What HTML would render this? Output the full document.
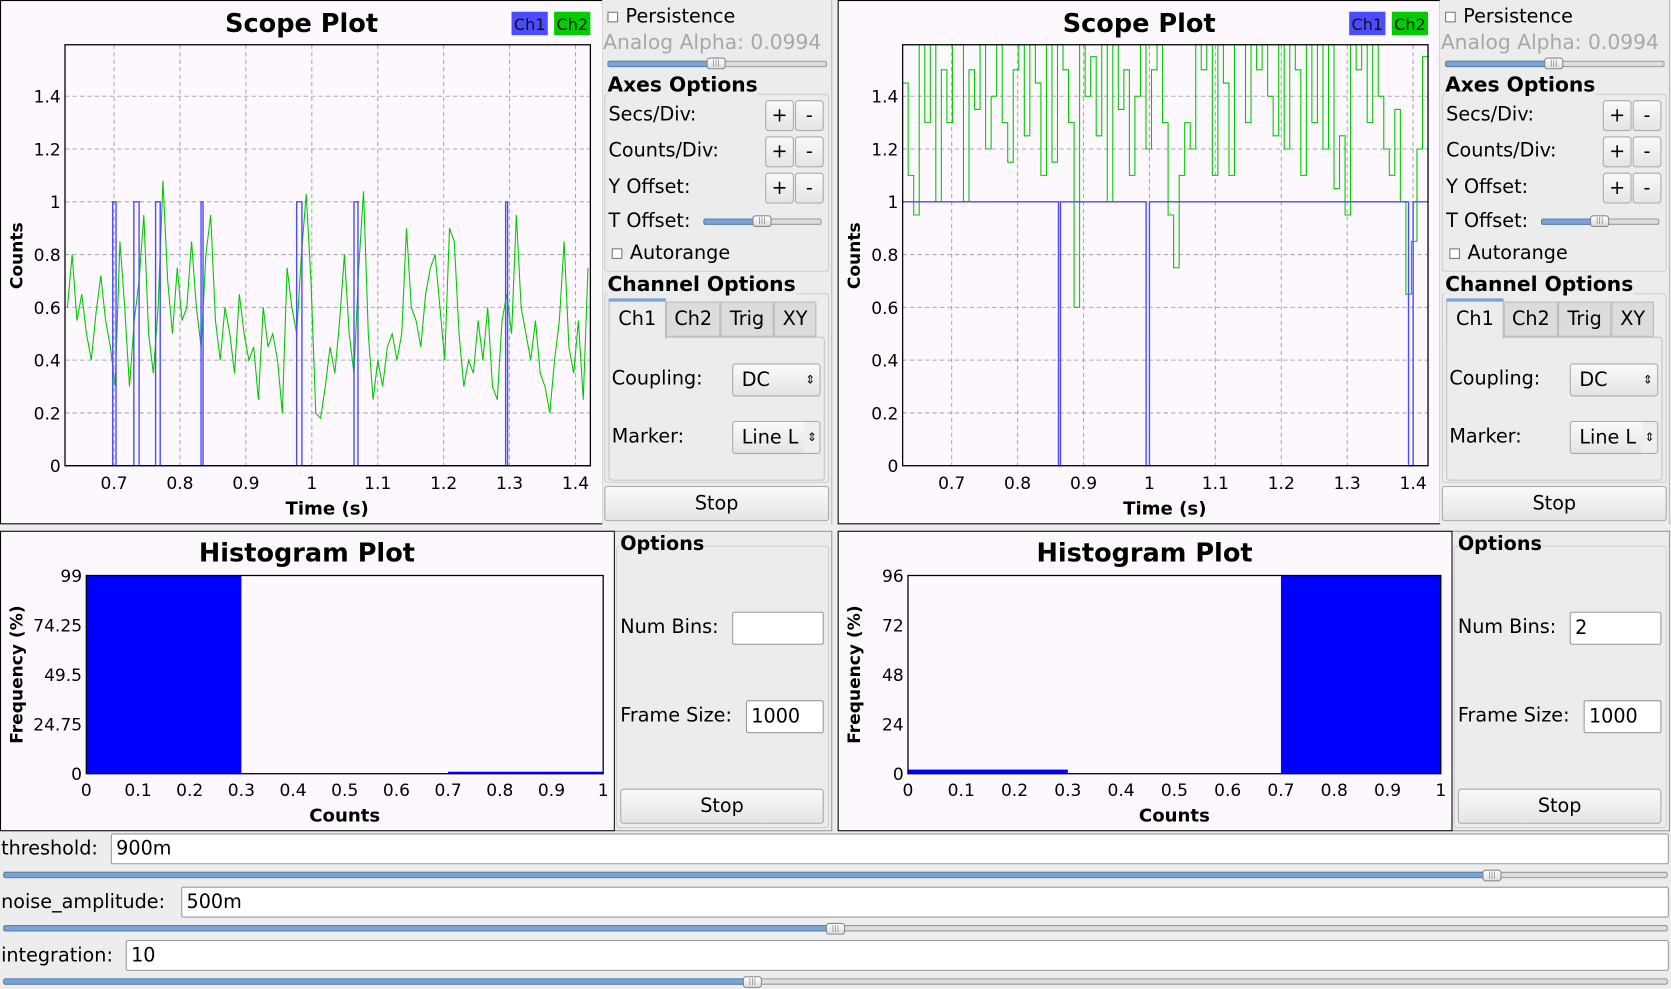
<!DOCTYPE html>
<html><head><meta charset="utf-8">
<style>
html,body{margin:0;padding:0;background:#ededed;overflow:hidden;width:1671px;height:989px}
#root{position:absolute;left:0;top:0;width:1568px;height:928px;transform:scale(1.06569,1.06573);transform-origin:0 0;font-family:"DejaVu Sans","Liberation Sans",sans-serif;color:#000}
.a{position:absolute;box-sizing:border-box}
.t{position:absolute;white-space:nowrap;font-size:18px;line-height:1}
.btn{position:absolute;box-sizing:border-box;border:1px solid #aaa;border-radius:3px;background:linear-gradient(#fafafa,#e4e4e4);text-align:center;font-size:18px}
.inp{position:absolute;box-sizing:border-box;border:1px solid #999;border-radius:2px;background:#fff;font-size:18px;padding-left:4px}
.grp{position:absolute;box-sizing:border-box;border:1px solid #cfcfcf;border-radius:3px}
.cb{position:absolute;width:10px;height:10px;border:1px solid #777;background:#fff;box-sizing:border-box}
.trk{position:absolute;height:6px;border:1px solid #999;background:#ddd;box-sizing:border-box;border-radius:2px}
.fil{position:absolute;height:6px;background:#7aa3d6;border:1px solid #5a80b0;box-sizing:border-box;border-radius:2px}
.hdl{position:absolute;width:18px;height:11px;border:1px solid #888;border-radius:3px;background:linear-gradient(#fff,#ddd);box-sizing:border-box;font-size:7px;text-align:center;line-height:9px;color:#777}
svg text{font-family:"DejaVu Sans","Liberation Sans",sans-serif}
</style></head>
<body>
<div id="root">
<svg id="charts" class="a" style="left:0;top:0" width="1568" height="928"></svg>
<div id="ctrls"></div>
</div>
<script>
// ---------- data ----------
const scopeXTicks = [0.7,0.8,0.9,1,1.1,1.2,1.3,1.4];
const scopeYTicks = [0,0.2,0.4,0.6,0.8,1,1.2,1.4];
const leftCh1PulseStart = [0.698,0.730,0.763,0.832,0.977,1.064,1.294];
const leftCh1PulseEnd   = [0.703,0.738,0.770,0.835,0.985,1.070,1.297];
const leftCh2 = [0.6,0.8,0.55,0.65,0.5,0.4,0.58,0.72,0.55,0.45,0.3,0.85,0.6,0.3,0.55,0.7,0.95,0.5,0.35,0.6,1.08,0.7,0.5,0.75,0.55,0.6,0.85,0.6,0.45,0.8,0.95,0.55,0.4,0.6,0.5,0.35,0.65,0.5,0.4,0.45,0.25,0.6,0.45,0.5,0.4,0.2,0.75,0.6,0.5,0.8,1.03,0.7,0.2,0.18,0.3,0.45,0.35,0.55,0.8,0.5,0.35,0.75,1.04,0.5,0.25,0.4,0.3,0.45,0.5,0.4,0.5,0.9,0.6,0.55,0.45,0.65,0.75,0.8,0.6,0.4,0.9,0.85,0.5,0.3,0.4,0.35,0.55,0.4,0.6,0.3,0.25,0.55,0.65,0.5,0.95,0.6,0.5,0.4,0.55,0.35,0.3,0.2,0.4,0.55,0.85,0.45,0.35,0.55,0.25,0.75];
const rightCh1DropStart = [0.862,0.995,1.393];
const rightCh1DropEnd   = [0.865,1.000,1.400];
const rightCh2 = [1.45,1.1,0.95,1.6,1.3,1.6,1.0,1.5,1.3,1.6,1.6,1.0,1.5,1.35,1.6,1.2,1.4,1.6,1.3,1.15,1.5,1.6,1.25,1.6,1.45,1.1,1.6,1.15,1.6,1.5,1.3,0.6,1.6,1.4,1.55,1.25,1.6,1.0,1.6,1.35,1.5,1.1,1.4,1.6,1.2,1.5,1.6,1.3,0.95,0.75,1.1,1.3,1.2,1.6,1.5,1.6,1.1,1.6,1.45,1.1,1.6,1.6,1.3,1.6,1.5,1.6,1.4,1.25,1.6,1.2,1.6,1.5,1.1,1.6,1.3,1.6,1.2,1.6,1.05,1.25,0.95,1.6,1.5,1.6,1.3,1.6,1.4,1.2,1.1,1.35,1.0,0.65,0.85,1.2,1.55];
const histXTicks = [0,0.1,0.2,0.3,0.4,0.5,0.6,0.7,0.8,0.9,1];
const histBinStart = [0,0.7];
const histBinEnd = [0.3,1];
const leftHistValues = [99,1];
const leftHistYTicks = ["0","24.75","49.5","74.25","99"];
const rightHistValues = [2,96];
const rightHistYTicks = ["0","24","48","72","96"];

const NS="http://www.w3.org/2000/svg";
const svg=document.getElementById('charts');
function el(tag,attrs,parent,txt){const e=document.createElementNS(NS,tag);for(const k in attrs)e.setAttribute(k,attrs[k]);if(txt!==undefined)e.textContent=txt;(parent||svg).appendChild(e);return e;}

function scope(ox,ch1Type,ch1A,ch1B,ch2,side,steps){
  const L=ox+61,R=ox+554,T=42,B=437,x0=0.6256,x1=1.4226,y0=0,y1=1.595;
  const sx=v=>L+(v-x0)/(x1-x0)*(R-L), sy=v=>B-(v-y0)/(y1-y0)*(B-T);
  const g=el('g',{});
  
  
  const bg=el('rect',{x:ox+0.5,y:0.5,width:565,height:491,fill:'#fdf8fd',stroke:'#000'},g);
  
  const ti=el('text',{x:ox+283,y:30,'font-size':24,'font-weight':'bold','text-anchor':'middle'},g,'Scope Plot');
  
  const l1=el('rect',{x:ox+480,y:11,width:34,height:22,fill:'#4b4bff'},g);
  
  el('text',{x:ox+497,y:28,'font-size':15,'text-anchor':'middle',fill:'#111'},g,'Ch1');
  const l2=el('rect',{x:ox+520,y:11,width:34,height:22,fill:'#00cc00'},g);
  
  el('text',{x:ox+537,y:28,'font-size':15,'text-anchor':'middle',fill:'#111'},g,'Ch2');
  scopeXTicks.forEach(v=>{
    el('line',{x1:sx(v),x2:sx(v),y1:T,y2:B,stroke:'#aaa','stroke-dasharray':'4,3'},g);
    const t=el('text',{x:sx(v),y:B+22,'font-size':16,'text-anchor':'middle'},g,String(v));
    
  });
  scopeYTicks.forEach(v=>{
    el('line',{x1:L,x2:R,y1:sy(v),y2:sy(v),stroke:'#aaa','stroke-dasharray':'4,3'},g);
    const t=el('text',{x:L-4,y:sy(v)+6,'font-size':16,'text-anchor':'end'},g,String(v));
    
  });
  let d='';const n=ch2.length;
  ch2.forEach((v,i)=>{const xa=sx(x0+(x1-x0)*i/n),xb=sx(x0+(x1-x0)*(i+1)/n),y=sy(Math.min(v,y1));
    if(steps) d+=(i?'L':'M')+xa+','+y+'L'+xb+','+y;
    else d+=(i?'L':'M')+((xa+xb)/2)+','+y;});
  const p2=el('path',{d:d,fill:'none',stroke:'#00c800','stroke-width':1},g);
  
  const base=ch1Type==='pulse'?0:1, alt=1-base;
  let d1='M'+L+','+sy(base);
  ch1A.forEach((s,i)=>{d1+='L'+sx(s)+','+sy(base)+'L'+sx(s)+','+sy(alt)+'L'+sx(ch1B[i])+','+sy(alt)+'L'+sx(ch1B[i])+','+sy(base);});
  d1+='L'+R+','+sy(base);
  const p1=el('path',{d:d1,fill:'none',stroke:'#4b4bff','stroke-width':1.3},g);
  
  const fr=el('rect',{x:L,y:T,width:R-L,height:B-T,fill:'none',stroke:'#000','stroke-width':1.2},g);
  
  const xl=el('text',{x:ox+307,y:483,'font-size':17,'font-weight':'bold','text-anchor':'middle'},g,'Time (s)');
  
  const yl=el('text',{x:0,y:0,'font-size':16,'font-weight':'bold','text-anchor':'middle',transform:'translate('+(ox+21)+',240) rotate(-90)'},g,'Counts');
  
}
scope(0,'pulse',leftCh1PulseStart,leftCh1PulseEnd,leftCh2,'left',false);
scope(786,'drop',rightCh1DropStart,rightCh1DropEnd,rightCh2,'right',true);

function hist(ox,lOff,vals,yt,side){
  const L=ox+lOff,R=ox+566,T=540,B=726,ymax=+yt[yt.length-1];
  const sx=v=>L+v*(R-L), sy=v=>B-v/ymax*(B-T);
  const g=el('g',{});
  
  
  el('rect',{x:ox+0.5,y:498.5,width:576,height:281,fill:'#fdf8fd',stroke:'#000'},g);
  const ti=el('text',{x:ox+288,y:527,'font-size':24,'font-weight':'bold','text-anchor':'middle'},g,'Histogram Plot');
  
  vals.forEach((v,i)=>{
    const r=el('rect',{x:sx(histBinStart[i]),y:sy(v),width:sx(histBinEnd[i])-sx(histBinStart[i]),height:B-sy(v),fill:'#0000ff'},g);
    
  });
  el('rect',{x:L,y:T,width:R-L,height:B-T,fill:'none',stroke:'#000','stroke-width':1.2},g);
  histXTicks.forEach(v=>{const t=el('text',{x:sx(v),y:B+21,'font-size':16,'text-anchor':'middle'},g,String(v));
    });
  yt.forEach(s=>{const t=el('text',{x:L-4,y:sy(+s)+6,'font-size':16,'text-anchor':'end'},g,s);
    });
  const xl=el('text',{x:(L+R)/2,y:771,'font-size':17,'font-weight':'bold','text-anchor':'middle'},g,'Counts');
  
  const yl=el('text',{x:0,y:0,'font-size':16,'font-weight':'bold','text-anchor':'middle',transform:'translate('+(ox+21)+',633) rotate(-90)'},g,'Frequency (%)');
  
}
hist(0,81,leftHistValues,leftHistYTicks,'left');
hist(786,66,rightHistValues,rightHistYTicks,'right');

function panel(ox,side,bins){
return `
<div class="a" style="left:${ox+565}px;top:0;width:216px;height:492px;background:#ececec;border-right:1px solid #bbb"></div>
<div class="cb" style="left:${ox+570}px;top:11px"></div>
<div class="t" style="left:${ox+587}px;top:7px">Persistence</div>
<div class="t" style="left:${ox+566}px;top:31px;color:#a8a8a8;font-size:19px">Analog Alpha: 0.0994</div>
<div class="trk" style="left:${ox+570}px;top:57px;width:206px"></div>
<div class="fil" style="left:${ox+570}px;top:57px;width:102px"></div>
<div class="hdl" style="left:${ox+663}px;top:54px">|||</div>
<div class="grp" style="left:${ox+567}px;top:88px;width:211px;height:167px"></div>
<div class="t" style="left:${ox+570}px;top:71px;font-weight:bold;background:#ececec;font-size:19px">Axes Options</div>
<div class="t" style="left:${ox+571}px;top:99px">Secs/Div:</div>
<div class="btn" style="left:${ox+718}px;top:94px;width:27px;height:29px;line-height:27px">+</div>
<div class="btn" style="left:${ox+746}px;top:94px;width:27px;height:29px;line-height:27px">-</div>
<div class="t" style="left:${ox+571}px;top:133px">Counts/Div:</div>
<div class="btn" style="left:${ox+718}px;top:128px;width:27px;height:29px;line-height:27px">+</div>
<div class="btn" style="left:${ox+746}px;top:128px;width:27px;height:29px;line-height:27px">-</div>
<div class="t" style="left:${ox+571}px;top:167px">Y Offset:</div>
<div class="btn" style="left:${ox+718}px;top:162px;width:27px;height:29px;line-height:27px">+</div>
<div class="btn" style="left:${ox+746}px;top:162px;width:27px;height:29px;line-height:27px">-</div>
<div class="t" style="left:${ox+571}px;top:199px">T Offset:</div>
<div class="trk" style="left:${ox+660}px;top:205px;width:111px"></div>
<div class="fil" style="left:${ox+660}px;top:205px;width:55px"></div>
<div class="hdl" style="left:${ox+706}px;top:202px">|||</div>
<div class="cb" style="left:${ox+574}px;top:233px"></div>
<div class="t" style="left:${ox+591}px;top:229px">Autorange</div>
<div class="grp" style="left:${ox+567}px;top:275px;width:211px;height:178px"></div>
<div class="t" style="left:${ox+570}px;top:258px;font-weight:bold;background:#ececec;font-size:19px">Channel Options</div>
<div class="a" style="left:${ox+571}px;top:316px;width:203px;height:135px;border:1px solid #c4c4c4;border-radius:3px"></div>
<div class="a" style="left:${ox+571}px;top:280px;width:54px;height:38px;background:#ececec;border:1px solid #bbb;border-top:3px solid #7aa3d6;border-bottom:none;text-align:center;font-size:18px;line-height:34px">Ch1</div>
<div class="a" style="left:${ox+625}px;top:283px;width:51px;height:33px;background:#dcdcdc;border:1px solid #bbb;text-align:center;font-size:18px;line-height:32px">Ch2</div>
<div class="a" style="left:${ox+676}px;top:283px;width:50px;height:33px;background:#dcdcdc;border:1px solid #bbb;text-align:center;font-size:18px;line-height:32px">Trig</div>
<div class="a" style="left:${ox+726}px;top:283px;width:40px;height:33px;background:#dcdcdc;border:1px solid #bbb;text-align:center;font-size:18px;line-height:32px">XY</div>
<div class="t" style="left:${ox+574}px;top:347px">Coupling:</div>
<div class="btn" style="left:${ox+687}px;top:341px;width:83px;height:31px;line-height:29px;text-align:left;padding-left:8px">DC<span style="position:absolute;right:4px;font-size:11px">&#8661;</span></div>
<div class="t" style="left:${ox+574}px;top:401px">Marker:</div>
<div class="btn" style="left:${ox+687}px;top:395px;width:83px;height:31px;line-height:29px;text-align:left;padding-left:8px;overflow:hidden">Line L<span style="position:absolute;right:0;width:14px;background:#eee;font-size:11px;text-align:center">&#8661;</span></div>
<div class="btn" style="left:${ox+567}px;top:456px;width:211px;height:33px;line-height:31px">Stop</div>

<div class="a" style="left:${ox+577}px;top:498px;width:204px;height:282px;background:#ececec;border:1px solid #999;border-left:none"></div>
<div class="grp" style="left:${ox+578}px;top:512px;width:200px;height:265px"></div>
<div class="t" style="left:${ox+582}px;top:502px;font-weight:bold;background:#ececec">Options</div>
<div class="t" style="left:${ox+582}px;top:580px">Num Bins:</div>
<div class="inp" style="left:${ox+687}px;top:574px;width:86px;height:31px;line-height:29px">${bins}</div>
<div class="t" style="left:${ox+582}px;top:663px">Frame Size:</div>
<div class="inp" style="left:${ox+700}px;top:657px;width:73px;height:31px;line-height:29px">1000</div>
<div class="btn" style="left:${ox+582}px;top:740px;width:191px;height:33px;line-height:31px">Stop</div>`;
}
function row(y,label,lw,val,fill,side){
return `
<div class="t" style="left:1px;top:${y+6}px">${label}</div>
<div class="inp" style="left:${lw}px;top:${y}px;width:${1566-lw}px;height:29px;line-height:27px">${val}</div>
<div class="trk" style="left:3px;top:${y+36}px;width:1562px"></div>
<div class="fil" style="left:3px;top:${y+36}px;width:${fill-3}px"></div>
<div class="hdl" style="left:${fill-9}px;top:${y+34}px">|||</div>`;
}
document.getElementById('ctrls').innerHTML =
 panel(0,'left','') + panel(786,'right','2') +
 row(782,'threshold:',104,'900m',1400,'threshold') +
 row(832,'noise_amplitude:',170,'500m',784,'noise-amplitude') +
 row(882,'integration:',118,'10',706,'integration');
</script>
</body></html>
